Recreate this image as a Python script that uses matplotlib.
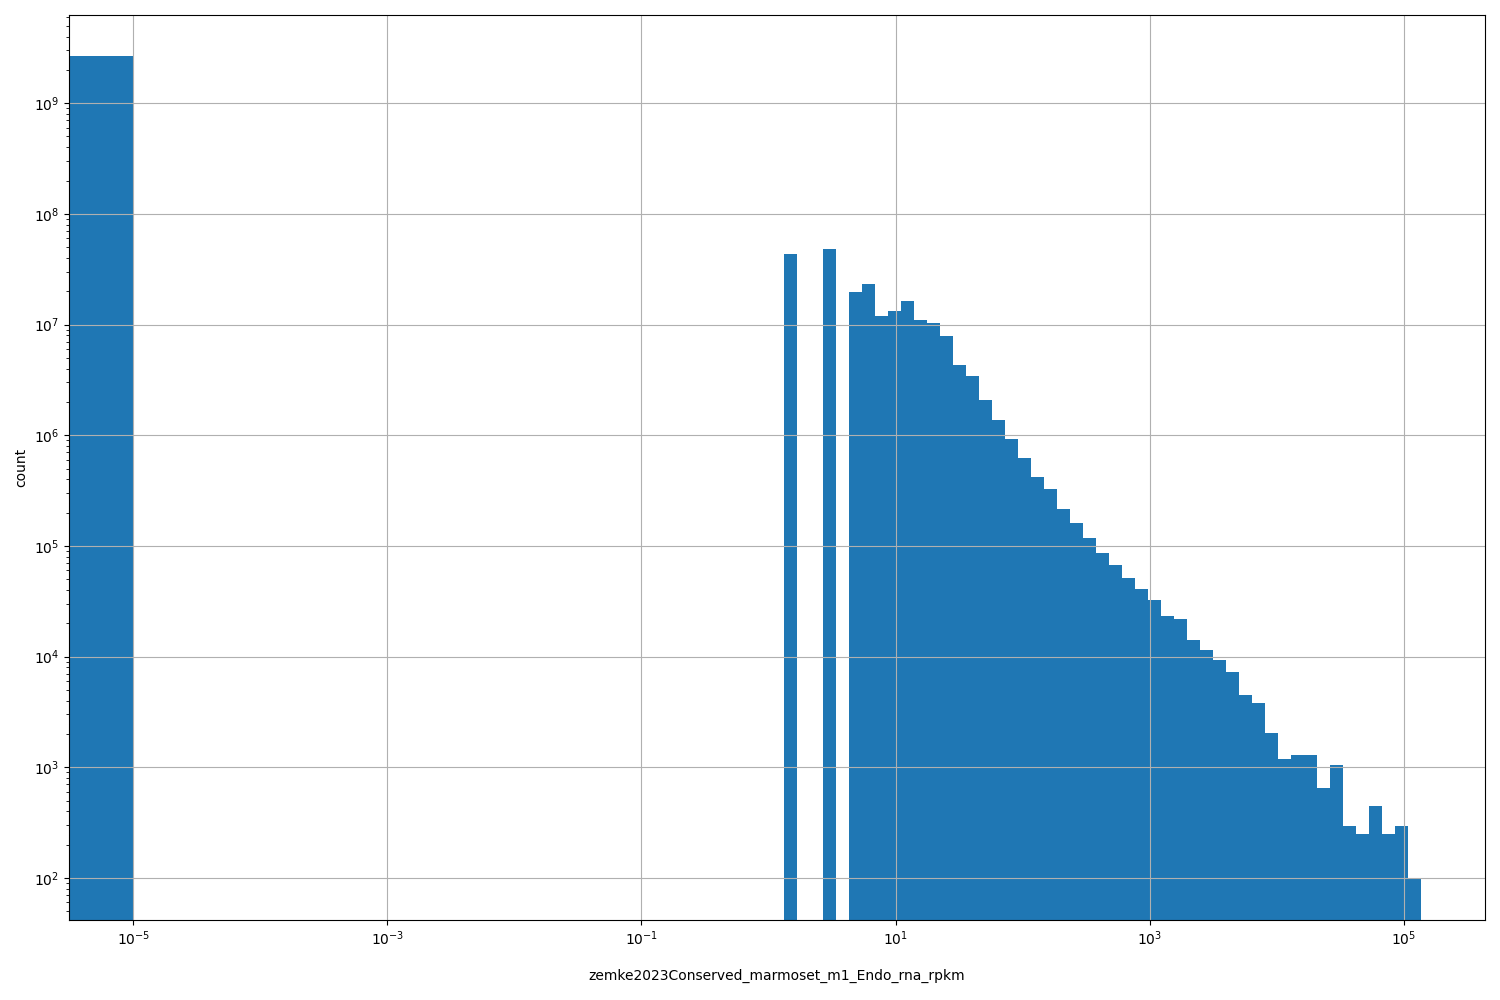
import numpy as np
import matplotlib
matplotlib.use('Agg')
import matplotlib.pyplot as plt
from matplotlib.ticker import NullLocator

# histogram of rpkm values, log-spaced bins with a leading [0, 1e-5) bin
column = 'zemke2023Conserved_marmoset_m1_Endo_rna_rpkm'
log_lo = -5.0
log_hi = 5.134
n_log_edges = 100
xtick_exponents = [-5, -3, -1, 1, 3, 5]

zero_bin_count = 2.66e9
first_filled_bin = 50
filled_counts = [
    4.33e7, 0, 0, 4.8e7, 0, 1.96e7, 2.32e7, 1.19e7, 1.32e7, 1.63e7,
    1.10e7, 1.03e7, 7.87e6, 4.3e6, 3.43e6, 2.08e6, 1.37e6, 9.23e5, 6.22e5, 4.19e5,
    3.26e5, 2.15e5, 1.61e5, 1.18e5, 8.62e4, 6.72e4, 5.13e4, 4.08e4, 3.24e4, 2.33e4,
    2.18e4, 1.41e4, 1.15e4, 9.3e3, 7.26e3, 4.5e3, 3.81e3, 2.04e3, 1.19e3, 1.29e3,
    1.29e3, 650, 1.05e3, 295, 250, 447, 250, 295, 98,
]

edges = np.concatenate([[0.0], np.logspace(log_lo, log_hi, n_log_edges)])
counts = np.array([zero_bin_count] + [0] * first_filled_bin + filled_counts, dtype=float)

fig, ax = plt.subplots(figsize=(15, 10), dpi=100)
ax.hist(edges[:-1], bins=edges, weights=counts, color='#1f77b4')
ax.set_xscale('log')
ax.set_yscale('log')
ax.set_xticks([10.0 ** e for e in xtick_exponents])
ax.xaxis.set_minor_locator(NullLocator())
ax.grid(True)
ax.set_xlabel(column, labelpad=15)
ax.set_ylabel('count')

plt.subplots_adjust(left=0.046, right=0.99, top=0.985, bottom=0.08)
plt.savefig('out.png', dpi=100)
